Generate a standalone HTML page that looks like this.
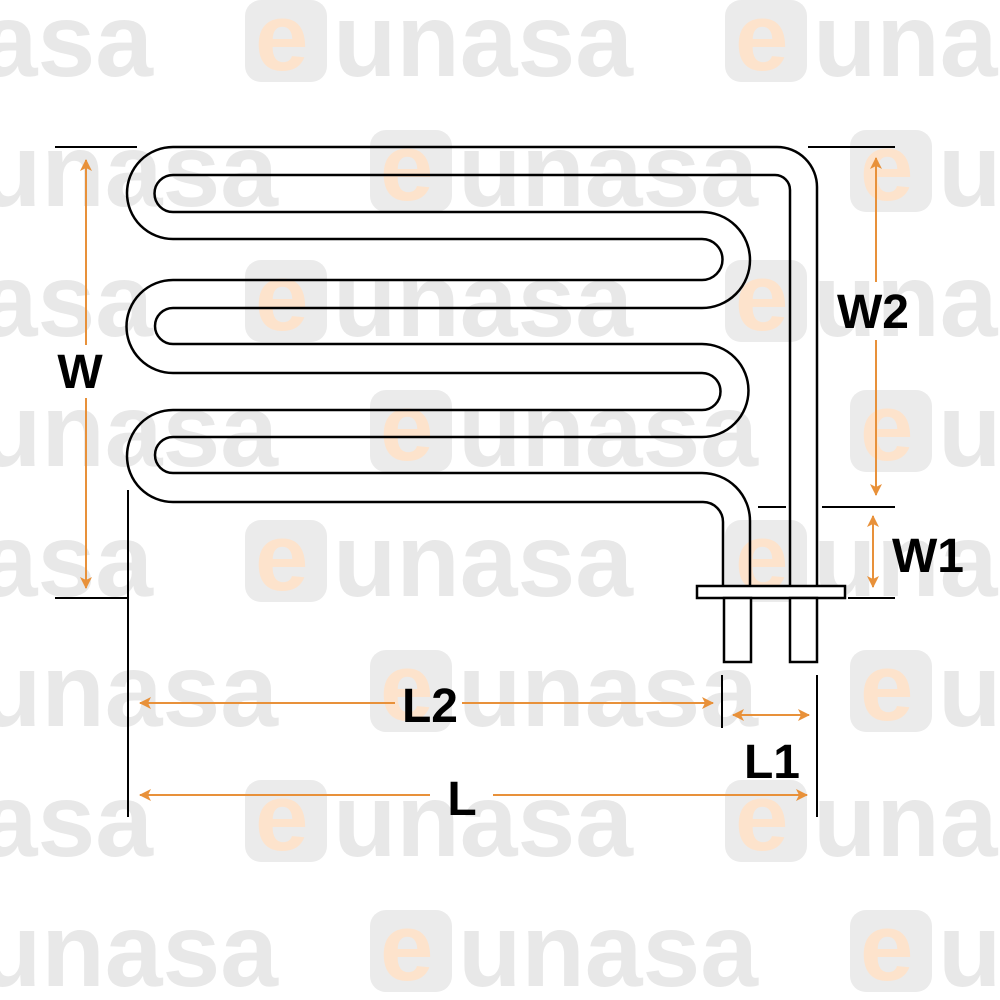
<!DOCTYPE html>
<html><head><meta charset="utf-8"><style>
html,body{margin:0;padding:0;background:#fff;}
svg{display:block;}
.wm{font-family:"Liberation Sans",sans-serif;font-weight:bold;font-size:104px;fill:#e8e8e8;}
.we{font-family:"Liberation Sans",sans-serif;font-weight:bold;font-size:96px;fill:#fde3cc;}
.lab{font-family:"Liberation Sans",sans-serif;font-weight:bold;font-size:48px;fill:#000;}
</style></head><body>
<svg width="1000" height="1000" viewBox="0 0 1000 1000" xmlns="http://www.w3.org/2000/svg">
<defs>
<g id="logo">
<rect x="0" y="-40" width="82" height="82" rx="16" fill="#ebebeb"/>
<text class="we" x="10" y="30">e</text>
<text class="wm" x="88" y="36" textLength="300" lengthAdjust="spacingAndGlyphs">unasa</text>
</g>
<marker id="ar" markerWidth="12" markerHeight="12" refX="11" refY="6" orient="auto-start-reverse" markerUnits="userSpaceOnUse">
<path d="M0,0 L12,6 L0,12 L3,6 Z" fill="#e8913a"/>
</marker>
</defs>
<g>
<use href="#logo" x="-235" y="40"/><use href="#logo" x="245" y="40"/><use href="#logo" x="725" y="40"/>
<use href="#logo" x="-110" y="170"/><use href="#logo" x="370" y="170"/><use href="#logo" x="850" y="170"/>
<use href="#logo" x="-235" y="300"/><use href="#logo" x="245" y="300"/><use href="#logo" x="725" y="300"/>
<use href="#logo" x="-110" y="430"/><use href="#logo" x="370" y="430"/><use href="#logo" x="850" y="430"/>
<use href="#logo" x="-235" y="560"/><use href="#logo" x="245" y="560"/><use href="#logo" x="725" y="560"/>
<use href="#logo" x="-110" y="690"/><use href="#logo" x="370" y="690"/><use href="#logo" x="850" y="690"/>
<use href="#logo" x="-235" y="820"/><use href="#logo" x="245" y="820"/><use href="#logo" x="725" y="820"/>
<use href="#logo" x="-110" y="950"/><use href="#logo" x="370" y="950"/><use href="#logo" x="850" y="950"/>
</g>
<g fill="none" stroke="#000" stroke-width="2.5">
<path d="M817,586 L817,187 A40,40 0 0 0 777,147 L173,147 A46,46 0 0 0 173,239 L702,239 A20.5,20.5 0 0 1 702,280 L173,280 A46.5,46.5 0 0 0 173,373 L702,373 A18.5,18.5 0 0 1 702,410 L173,410 A46,46 0 0 0 173,502 L703,502 A20,20 0 0 1 723,522 L723,586"/>
<path d="M790,586 L790,190 A15,15 0 0 0 775,175 L173,175 A18.5,18.5 0 0 0 173,212 L702,212 A48,48 0 0 1 702,308 L173,308 A18,18 0 0 0 173,344 L702,344 A46.5,46.5 0 0 1 702,437 L173,437 A18,18 0 0 0 173,473 L702,473 A48,48 0 0 1 750,521 L750,586"/>
<rect x="697" y="586" width="148" height="12" fill="#fff"/>
<rect x="724" y="598" width="27" height="64" fill="#fff"/>
<rect x="790" y="598" width="27" height="64" fill="#fff"/>
</g>
<g stroke="#000" stroke-width="2">
<line x1="55" y1="147" x2="137" y2="147"/>
<line x1="808" y1="147" x2="895" y2="147"/>
<line x1="55" y1="598" x2="128" y2="598"/>
<line x1="848" y1="598" x2="895" y2="598"/>
<line x1="758" y1="507" x2="786" y2="507"/>
<line x1="822" y1="507" x2="895" y2="507"/>
<line x1="128" y1="490" x2="128" y2="817"/>
<line x1="722" y1="675" x2="722" y2="728"/>
<line x1="817" y1="675" x2="817" y2="817"/>
</g>
<g stroke="#e8913a" stroke-width="2" fill="none">
<line x1="86" y1="160" x2="86" y2="345" marker-start="url(#ar)"/>
<line x1="86" y1="398" x2="86" y2="588" marker-end="url(#ar)"/>
<line x1="876" y1="158" x2="876" y2="282" marker-start="url(#ar)"/>
<line x1="876" y1="340" x2="876" y2="495" marker-end="url(#ar)"/>
<line x1="873" y1="516" x2="873" y2="587" marker-start="url(#ar)" marker-end="url(#ar)"/>
<line x1="140" y1="703" x2="395" y2="703" marker-start="url(#ar)"/>
<line x1="462" y1="703" x2="713" y2="703" marker-end="url(#ar)"/>
<line x1="733" y1="715" x2="809" y2="715" marker-start="url(#ar)" marker-end="url(#ar)"/>
<line x1="140" y1="795" x2="430" y2="795" marker-start="url(#ar)"/>
<line x1="493" y1="795" x2="807" y2="795" marker-end="url(#ar)"/>
</g>
<text class="lab" x="80" y="388" text-anchor="middle">W</text>
<text class="lab" x="873" y="328" text-anchor="middle">W2</text>
<text class="lab" x="928" y="572" text-anchor="middle">W1</text>
<text class="lab" x="430" y="722" text-anchor="middle">L2</text>
<text class="lab" x="772" y="778" text-anchor="middle">L1</text>
<text class="lab" x="462" y="815" text-anchor="middle">L</text>
</svg>
</body></html>
